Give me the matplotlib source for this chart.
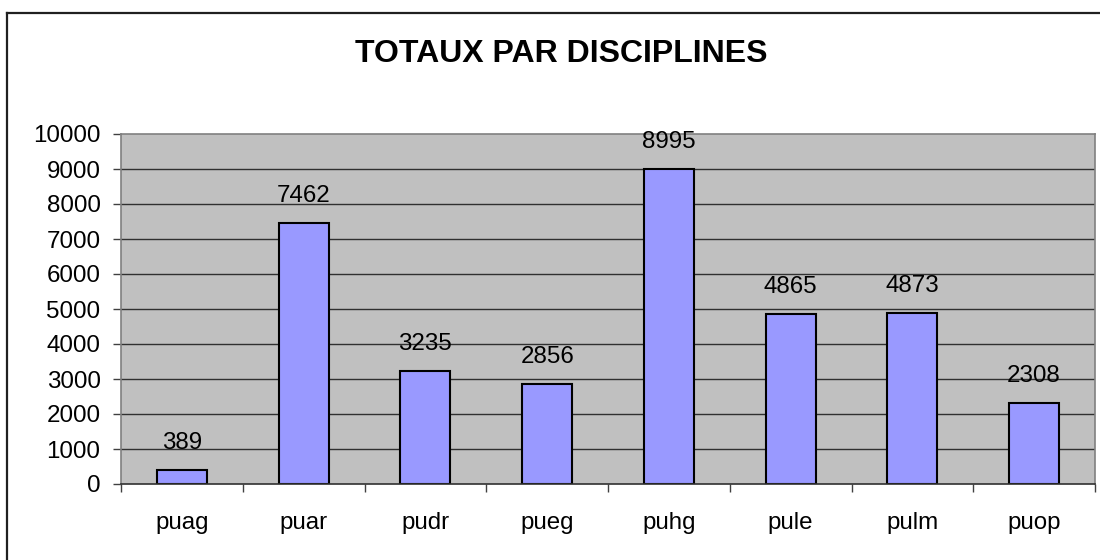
import matplotlib
matplotlib.use("Agg")
import matplotlib.pyplot as plt
from matplotlib.lines import Line2D

categories = ["puag", "puar", "pudr", "pueg", "puhg", "pule", "pulm", "puop"]
totals = [389, 7462, 3235, 2856, 8995, 4865, 4873, 2308]
y_ticks = [0, 1000, 2000, 3000, 4000, 5000, 6000, 7000, 8000, 9000, 10000]
title = "TOTAUX PAR DISCIPLINES"

plt.rcParams["font.family"] = ["Liberation Sans", "DejaVu Sans"]

W, H = 1100, 560
fig = plt.figure(figsize=(W / 100, H / 100), dpi=100)
fig.patch.set_facecolor("white")

# chart frame (left and top edges)
fig.add_artist(Line2D([7 / W, 7 / W], [0, 1 - 13 / H], color="#202020", lw=1.6))
fig.add_artist(Line2D([7 / W, 1], [1 - 13 / H, 1 - 13 / H], color="#202020", lw=1.6))

left, right, top, bottom = 121, 1095, 134, 484
ax = fig.add_axes([left / W, 1 - bottom / H, (right - left) / W, (bottom - top) / H])
ax.set_facecolor("#C0C0C0")

fs = 17.4
x = list(range(len(categories)))
ax.bar(x, totals, width=0.41, color="#9999FF", edgecolor="black", linewidth=1.5, zorder=3)
for xi, v in zip(x, totals):
    ax.annotate(f"{v}", (xi, v), xytext=(0, 11.5), textcoords="offset points",
                ha="center", va="bottom", fontsize=fs, color="black")

ax.set_xlim(-0.5, len(categories) - 0.5)
ax.set_ylim(0, 10000)
ax.set_yticks(y_ticks)
ax.set_yticklabels([str(t) for t in y_ticks], fontsize=fs)
ax.set_xticks(x)
ax.set_xticklabels(categories, fontsize=fs)
ax.tick_params(axis="x", length=0, pad=20)
ax.tick_params(axis="y", length=5.8, width=1, color="#404040", pad=9, direction="out")

# category boundary ticks
ax.set_xticks([i - 0.5 for i in range(len(categories) + 1)], minor=True)
ax.tick_params(axis="x", which="minor", length=5.8, width=1, color="#404040", direction="out")

for t in y_ticks[1:-1]:
    ax.axhline(t, color="#303030", lw=1, zorder=1)

for side in ["top", "right", "left"]:
    ax.spines[side].set_color("#808080")
    ax.spines[side].set_linewidth(1.2)
ax.spines["bottom"].set_color("#303030")
ax.spines["bottom"].set_linewidth(1.2)
ax.spines["bottom"].set_zorder(4)

fig.text(561 / W, 1 - 54 / H, title, ha="center", va="center",
         fontsize=23, fontweight="bold", color="black")

fig.savefig("out.png", dpi=100)
